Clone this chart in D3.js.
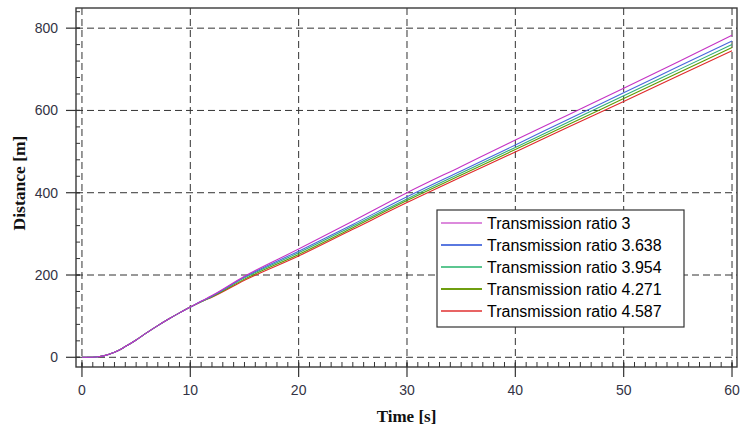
<!DOCTYPE html>
<html>
<head>
<meta charset="utf-8">
<script src="https://cdn.jsdelivr.net/npm/d3@7"></script>
<style>
  html, body { margin: 0; padding: 0; background: #fff; }
  svg { display: block; }
</style>
</head>
<body>
<svg id="chart" width="741" height="432"></svg>
<script>
// ---- data ----
const time = [0, 1, 1.5, 2, 3, 4, 5, 6, 7, 8, 9, 10, 11, 12, 15, 20, 25, 30, 35, 40, 45, 50, 55, 60];
const ratio3     = [0, 0.2, 1.2, 3.5, 12, 26, 42, 60, 77, 93, 108, 122, 136, 150, 197, 263, 331, 400, 464, 528, 591, 654, 718, 783];
const ratio3638  = [0, 0.2, 1.2, 3.5, 12, 26, 42, 60, 77, 93, 108, 122, 136, 149, 195, 258, 323, 390, 453, 516, 580, 643, 706, 769];
const ratio3954  = [0, 0.2, 1.2, 3.5, 12, 26, 42, 60, 77, 93, 108, 122, 135, 148, 193, 254, 319, 385, 448, 510, 573, 636, 698, 760];
const ratio4271  = [0, 0.2, 1.2, 3.5, 12, 26, 42, 60, 77, 93, 108, 122, 135, 147, 190, 250, 315, 381, 443, 505, 567, 629, 691, 753];
const ratio4587  = [0, 0.2, 1.2, 3.5, 12, 26, 42, 60, 77, 93, 108, 122, 135, 146, 187, 246, 311, 376, 438, 499, 561, 622, 684, 745];
const seriesNames = ["Transmission ratio 3", "Transmission ratio 3.638", "Transmission ratio 3.954", "Transmission ratio 4.271", "Transmission ratio 4.587"];
const seriesValues = [ratio3, ratio3638, ratio3954, ratio4271, ratio4587];
const seriesColors = ["#c533c5", "#4a66dd", "#2fae7a", "#5f9a00", "#e02a2a"];
const legendColors = ["#dc8adc", "#5a78e0", "#5cc690", "#6f9e10", "#e86464"];
const xTicks = [0, 10, 20, 30, 40, 50, 60];
const yTicks = [0, 200, 400, 600, 800];
const xTitle = "Time [s]";
const yTitle = "Distance [m]";

// ---- layout ----
const svg = d3.select("#chart");
const frame = { left: 76, right: 737, top: 8, bottom: 367 };
const x = d3.scaleLinear().domain([-0.55, 60.46]).range([frame.left, frame.right]);
const y = d3.scaleLinear().domain([-23.6, 849]).range([frame.bottom, frame.top]);

const gridColor = "#333";
// grid
const grid = svg.append("g");
grid.selectAll("line.vg").data(xTicks).join("line")
  .attr("x1", d => x(d)).attr("x2", d => x(d))
  .attr("y1", frame.top).attr("y2", frame.bottom)
  .attr("stroke", gridColor).attr("stroke-width", 1).attr("stroke-dasharray", "7,4");
grid.selectAll("line.hg").data(yTicks).join("line")
  .attr("x1", frame.left).attr("x2", frame.right)
  .attr("y1", d => y(d)).attr("y2", d => y(d))
  .attr("stroke", gridColor).attr("stroke-width", 1).attr("stroke-dasharray", "7,4");

// lines
const line = d3.line().x((d, i) => x(time[i])).y(d => y(d)).curve(d3.curveMonotoneX);
const clip = svg.append("clipPath").attr("id", "clip").append("rect")
  .attr("x", frame.left).attr("y", frame.top)
  .attr("width", frame.right - frame.left).attr("height", frame.bottom - frame.top);
const lines = svg.append("g").attr("clip-path", "url(#clip)");
seriesValues.slice().reverse().forEach((vals, k) => {
  const i = seriesValues.length - 1 - k;
  lines.append("path").datum(vals)
    .attr("d", line).attr("fill", "none")
    .attr("stroke", seriesColors[i]).attr("stroke-width", 1.1);
});

// frame
svg.append("rect")
  .attr("x", frame.left).attr("y", frame.top)
  .attr("width", frame.right - frame.left).attr("height", frame.bottom - frame.top)
  .attr("fill", "none").attr("stroke", "#3a3a3a").attr("stroke-width", 1.4);

// x axis ticks
const xMinor = d3.range(0, 61, 1);
svg.append("g").selectAll("line").data(xMinor).join("line")
  .attr("x1", d => x(d)).attr("x2", d => x(d))
  .attr("y1", frame.bottom - 5).attr("y2", frame.bottom)
  .attr("stroke", "#333").attr("stroke-width", 1);
svg.append("g").selectAll("line").data(xTicks).join("line")
  .attr("x1", d => x(d)).attr("x2", d => x(d))
  .attr("y1", frame.bottom - 4).attr("y2", frame.bottom + 10)
  .attr("stroke", "#333").attr("stroke-width", 1.2);
svg.append("g").selectAll("text").data(xTicks).join("text")
  .attr("x", d => x(d)).attr("y", 395)
  .attr("text-anchor", "middle")
  .attr("font-family", "Liberation Sans, Arial, sans-serif").attr("font-size", 14)
  .attr("fill", "#333344").text(d => d);

// y axis ticks
const yMinor = d3.range(0, 841, 40);
svg.append("g").selectAll("line").data(yMinor).join("line")
  .attr("x1", frame.left).attr("x2", frame.left + 4)
  .attr("y1", d => y(d)).attr("y2", d => y(d))
  .attr("stroke", "#333").attr("stroke-width", 1);
svg.append("g").selectAll("line").data(yTicks).join("line")
  .attr("x1", frame.left - 10).attr("x2", frame.left + 4)
  .attr("y1", d => y(d)).attr("y2", d => y(d))
  .attr("stroke", "#333").attr("stroke-width", 1.2);
svg.append("g").selectAll("text").data(yTicks).join("text")
  .attr("x", 58).attr("y", d => y(d) + 5)
  .attr("text-anchor", "end")
  .attr("font-family", "Liberation Sans, Arial, sans-serif").attr("font-size", 14)
  .attr("fill", "#333344").text(d => d);

// axis titles
svg.append("text")
  .attr("x", (frame.left + frame.right) / 2).attr("y", 422)
  .attr("text-anchor", "middle")
  .attr("font-family", "Liberation Serif, Times New Roman, serif")
  .attr("font-weight", "bold").attr("font-size", 17).attr("fill", "#111")
  .text(xTitle);
svg.append("text")
  .attr("transform", "translate(25,183) rotate(-90)")
  .attr("text-anchor", "middle")
  .attr("font-family", "Liberation Serif, Times New Roman, serif")
  .attr("font-weight", "bold").attr("font-size", 17.5).attr("fill", "#111")
  .text(yTitle);

// legend
const lg = svg.append("g");
const lgBox = { x: 437, y: 210, w: 247, h: 117 };
lg.append("rect").attr("x", lgBox.x).attr("y", lgBox.y)
  .attr("width", lgBox.w).attr("height", lgBox.h)
  .attr("fill", "#fff").attr("stroke", "#333").attr("stroke-width", 1.2);
seriesNames.forEach((name, i) => {
  const cy = 223 + i * 22;
  lg.append("line").attr("x1", 441).attr("x2", 482).attr("y1", cy).attr("y2", cy)
    .attr("stroke", legendColors[i]).attr("stroke-width", 1.8);
  lg.append("text").attr("x", 487).attr("y", cy + 5.5)
    .attr("font-family", "Liberation Sans, Arial, sans-serif").attr("font-size", 16)
    .attr("fill", "#000").text(name);
});
</script>
</body>
</html>
